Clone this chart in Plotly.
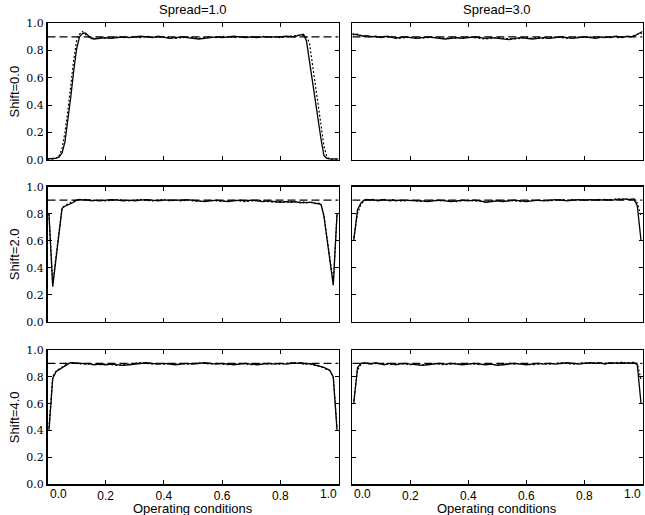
import plotly.graph_objects as go

# ---------------- data ----------------
X_LEFT = [0.000, 0.005, 0.018, 0.030, 0.040, 0.050, 0.060, 0.070, 0.080, 0.090,
          0.100, 0.110, 0.120, 0.130, 0.140, 0.150, 0.160]
X_MID = [0.18, 0.20, 0.22, 0.24, 0.26, 0.28, 0.30, 0.32, 0.34, 0.36, 0.38, 0.40,
         0.42, 0.44, 0.46, 0.48, 0.50, 0.52, 0.54, 0.56, 0.58, 0.60, 0.62, 0.64,
         0.66, 0.68, 0.70, 0.72, 0.74, 0.76, 0.78, 0.80, 0.82, 0.84]
X_RIGHT = [0.850, 0.860, 0.870, 0.880, 0.890, 0.900, 0.910, 0.920, 0.930, 0.940,
           0.950, 0.960, 0.970, 0.982, 0.995, 1.000]
X = X_LEFT + X_MID + X_RIGHT

SPREADS = ["Spread=1.0", "Spread=3.0"]
SHIFTS = ["Shift=0.0", "Shift=2.0", "Shift=4.0"]
REF_LEVEL = 0.9
X_TICKS = [0.0, 0.2, 0.4, 0.6, 0.8, 1.0]
X_TICK_LABELS = ["0.0", "0.2", "0.4", "0.6", "0.8", "1.0"]
Y_TICKS = [0.0, 0.2, 0.4, 0.6, 0.8, 1.0]
Y_TICK_LABELS = ["0.0", "0.2", "0.4", "0.6", "0.8", "1.0"]
X_TITLE = "Operating conditions"

# Shift=0.0, Spread=1.0
A_SOLID = [0.005, 0.006, 0.008, 0.012, 0.02, 0.05, 0.13, 0.28, 0.46, 0.65, 0.81, 0.90, 0.925, 0.93, 0.91, 0.89, 0.885,
           0.89, 0.895, 0.89, 0.895, 0.90, 0.895, 0.90, 0.905, 0.90, 0.895, 0.905, 0.90, 0.89, 0.895, 0.90, 0.895, 0.89,
           0.885, 0.89, 0.895, 0.90, 0.895, 0.90, 0.905, 0.90, 0.895, 0.90, 0.895, 0.90, 0.90, 0.895, 0.90, 0.905, 0.90,
           0.90, 0.91, 0.915, 0.92, 0.87, 0.72, 0.58, 0.44, 0.30, 0.15, 0.03, 0.01, 0.005, 0.005, 0.005, 0.005]
A_DOTTED = [0.0, 0.0, 0.002, 0.01, 0.03, 0.08, 0.20, 0.36, 0.55, 0.73, 0.87, 0.92, 0.94, 0.92, 0.90, 0.895, 0.89,
            0.895, 0.89, 0.895, 0.90, 0.895, 0.90, 0.90, 0.895, 0.905, 0.90, 0.895, 0.90, 0.895, 0.89, 0.895, 0.90, 0.895,
            0.89, 0.895, 0.90, 0.895, 0.905, 0.90, 0.895, 0.90, 0.90, 0.895, 0.90, 0.905, 0.895, 0.90, 0.895, 0.90, 0.905,
            0.905, 0.91, 0.915, 0.91, 0.90, 0.86, 0.71, 0.55, 0.40, 0.25, 0.10, 0.02, 0.005, 0.0, 0.0, 0.0]
# Shift=0.0, Spread=3.0
B_SOLID = [0.925, 0.92, 0.915, 0.91, 0.905, 0.91, 0.905, 0.90, 0.905, 0.90, 0.895, 0.90, 0.905, 0.90, 0.895, 0.89, 0.895,
           0.90, 0.895, 0.89, 0.895, 0.90, 0.895, 0.89, 0.885, 0.89, 0.895, 0.89, 0.895, 0.90, 0.895, 0.89, 0.895, 0.89,
           0.885, 0.88, 0.89, 0.895, 0.89, 0.885, 0.89, 0.895, 0.89, 0.895, 0.90, 0.895, 0.89, 0.895, 0.90, 0.895, 0.89,
           0.895, 0.90, 0.895, 0.90, 0.895, 0.90, 0.905, 0.90, 0.895, 0.90, 0.905, 0.90, 0.905, 0.92, 0.935, 0.94]
B_DOTTED = [0.92, 0.915, 0.92, 0.91, 0.91, 0.905, 0.90, 0.905, 0.90, 0.895, 0.90, 0.905, 0.90, 0.895, 0.90, 0.895, 0.89,
            0.895, 0.90, 0.895, 0.89, 0.895, 0.90, 0.895, 0.89, 0.895, 0.89, 0.895, 0.90, 0.895, 0.89, 0.885, 0.89, 0.895,
            0.89, 0.885, 0.885, 0.89, 0.895, 0.89, 0.895, 0.89, 0.895, 0.90, 0.895, 0.89, 0.895, 0.90, 0.895, 0.90, 0.895,
            0.90, 0.895, 0.90, 0.895, 0.90, 0.905, 0.90, 0.895, 0.90, 0.905, 0.90, 0.905, 0.91, 0.915, 0.925, 0.93]
# Shift=2.0, Spread=1.0
C_SOLID = [None, 0.80, 0.26, 0.48, 0.66, 0.84, 0.855, 0.865, 0.87, 0.885, 0.90, 0.905, 0.90, 0.905, 0.90, 0.895, 0.90,
           0.895, 0.90, 0.905, 0.90, 0.895, 0.90, 0.895, 0.90, 0.905, 0.90, 0.895, 0.90, 0.90, 0.895, 0.90, 0.905, 0.90,
           0.895, 0.89, 0.895, 0.90, 0.895, 0.89, 0.895, 0.90, 0.895, 0.90, 0.895, 0.89, 0.895, 0.89, 0.885, 0.89, 0.885,
           0.89, 0.885, 0.88, 0.885, 0.88, 0.885, 0.88, 0.88, 0.875, 0.87, 0.78, 0.61, 0.45, 0.27, 0.80, None]
C_DOTTED = [None, 0.80, 0.28, 0.50, 0.68, 0.845, 0.86, 0.87, 0.88, 0.89, 0.905, 0.90, 0.905, 0.90, 0.905, 0.90, 0.895,
            0.90, 0.895, 0.90, 0.905, 0.90, 0.895, 0.90, 0.905, 0.90, 0.895, 0.90, 0.905, 0.895, 0.90, 0.895, 0.90, 0.895,
            0.89, 0.895, 0.90, 0.895, 0.89, 0.895, 0.90, 0.895, 0.89, 0.895, 0.90, 0.895, 0.89, 0.885, 0.89, 0.885, 0.89,
            0.885, 0.89, 0.885, 0.88, 0.885, 0.88, 0.885, 0.875, 0.88, 0.87, 0.79, 0.62, 0.46, 0.29, 0.80, None]
# Shift=2.0, Spread=3.0
D_SOLID = [None, 0.60, 0.83, 0.88, 0.90, 0.905, 0.90, 0.905, 0.90, 0.895, 0.90, 0.905, 0.90, 0.895, 0.90, 0.895, 0.90,
           0.90, 0.895, 0.90, 0.895, 0.89, 0.895, 0.90, 0.895, 0.89, 0.895, 0.90, 0.895, 0.90, 0.895, 0.885, 0.89, 0.895,
           0.89, 0.895, 0.90, 0.895, 0.89, 0.895, 0.90, 0.895, 0.90, 0.905, 0.90, 0.895, 0.90, 0.905, 0.90, 0.905, 0.90,
           0.905, 0.90, 0.905, 0.90, 0.905, 0.90, 0.905, 0.91, 0.905, 0.91, 0.905, 0.91, 0.91, 0.86, 0.60, None]
D_DOTTED = [None, 0.62, 0.80, 0.87, 0.895, 0.90, 0.905, 0.90, 0.895, 0.90, 0.905, 0.90, 0.895, 0.90, 0.905, 0.90, 0.895,
            0.895, 0.90, 0.895, 0.89, 0.895, 0.90, 0.895, 0.90, 0.895, 0.89, 0.895, 0.90, 0.895, 0.89, 0.89, 0.895, 0.90,
            0.895, 0.90, 0.895, 0.89, 0.895, 0.90, 0.895, 0.90, 0.895, 0.90, 0.905, 0.90, 0.905, 0.90, 0.905, 0.90, 0.905,
            0.90, 0.905, 0.90, 0.905, 0.90, 0.905, 0.91, 0.905, 0.91, 0.905, 0.91, 0.905, 0.91, 0.88, 0.78, None]
# Shift=4.0, Spread=1.0
E_SOLID = [None, 0.40, 0.79, 0.84, 0.855, 0.865, 0.88, 0.895, 0.905, 0.905, 0.90, 0.905, 0.90, 0.895, 0.90, 0.895, 0.89,
           0.895, 0.89, 0.895, 0.89, 0.885, 0.89, 0.895, 0.90, 0.905, 0.90, 0.895, 0.90, 0.895, 0.89, 0.895, 0.90, 0.895,
           0.90, 0.905, 0.90, 0.895, 0.90, 0.895, 0.89, 0.895, 0.90, 0.895, 0.89, 0.895, 0.90, 0.895, 0.90, 0.895, 0.90,
           0.905, 0.90, 0.905, 0.90, 0.895, 0.90, 0.895, 0.89, 0.885, 0.88, 0.87, 0.86, 0.85, 0.80, 0.40, None]
E_DOTTED = [None, 0.42, 0.80, 0.845, 0.86, 0.87, 0.885, 0.90, 0.90, 0.905, 0.90, 0.895, 0.90, 0.90, 0.895, 0.89, 0.895,
            0.89, 0.895, 0.89, 0.885, 0.89, 0.895, 0.90, 0.905, 0.90, 0.895, 0.90, 0.895, 0.90, 0.895, 0.90, 0.895, 0.90,
            0.905, 0.90, 0.895, 0.90, 0.895, 0.89, 0.895, 0.90, 0.895, 0.89, 0.895, 0.90, 0.895, 0.90, 0.895, 0.90, 0.905,
            0.90, 0.905, 0.90, 0.895, 0.90, 0.895, 0.89, 0.89, 0.88, 0.875, 0.865, 0.855, 0.845, 0.80, 0.42, None]
# Shift=4.0, Spread=3.0
F_SOLID = [None, 0.60, 0.87, 0.90, 0.905, 0.90, 0.895, 0.90, 0.905, 0.90, 0.895, 0.89, 0.895, 0.90, 0.895, 0.89, 0.895,
           0.90, 0.895, 0.89, 0.885, 0.89, 0.895, 0.90, 0.895, 0.90, 0.895, 0.89, 0.895, 0.90, 0.895, 0.89, 0.895, 0.885,
           0.89, 0.895, 0.90, 0.895, 0.89, 0.895, 0.90, 0.895, 0.90, 0.895, 0.90, 0.905, 0.90, 0.895, 0.90, 0.905, 0.90,
           0.905, 0.90, 0.895, 0.90, 0.905, 0.90, 0.905, 0.90, 0.905, 0.90, 0.905, 0.90, 0.905, 0.89, 0.60, None]
F_DOTTED = [None, 0.62, 0.85, 0.895, 0.90, 0.905, 0.90, 0.895, 0.90, 0.895, 0.90, 0.895, 0.90, 0.895, 0.89, 0.895, 0.90,
            0.895, 0.89, 0.895, 0.89, 0.895, 0.90, 0.895, 0.89, 0.895, 0.90, 0.895, 0.90, 0.895, 0.89, 0.895, 0.89, 0.89,
            0.895, 0.90, 0.895, 0.90, 0.895, 0.89, 0.895, 0.90, 0.895, 0.90, 0.905, 0.90, 0.895, 0.90, 0.905, 0.90, 0.905,
            0.90, 0.905, 0.90, 0.905, 0.90, 0.905, 0.90, 0.905, 0.91, 0.905, 0.90, 0.905, 0.91, 0.90, 0.78, None]

PANELS = [  # (row, col, solid, dotted)
    (0, 0, A_SOLID, A_DOTTED),
    (0, 1, B_SOLID, B_DOTTED),
    (1, 0, C_SOLID, C_DOTTED),
    (1, 1, D_SOLID, D_DOTTED),
    (2, 0, E_SOLID, E_DOTTED),
    (2, 1, F_SOLID, F_DOTTED),
]
for _, _, s, d in PANELS:
    assert len(s) == len(X) and len(d) == len(X), (len(s), len(d), len(X))

# ---------------- layout ----------------
W, H = 645, 515
COL_PX = [(47.5, 338.5), (352.3, 642.5)]
ROW_PX = [(23.3, 159.7), (186.7, 321.7), (350.0, 484.3)]


def px_x(p):
    return p / W


def px_y(p):
    return 1 - p / H


col_dom = [[px_x(a), px_x(b)] for a, b in COL_PX]
row_dom = [[px_y(b), px_y(a)] for a, b in ROW_PX]

SANS = "Liberation Sans, Arial, sans-serif"
SERIF = "DejaVu Serif, serif"

fig = go.Figure()
layout = dict(
    width=W, height=H,
    margin=dict(l=0, r=0, t=0, b=0),
    paper_bgcolor="white", plot_bgcolor="white",
    showlegend=False,
    font=dict(family=SANS, size=13, color="black"),
)
annotations = []

for r, c, solid, dotted in PANELS:
    n = r * 2 + c + 1
    xa = "x" if n == 1 else f"x{n}"
    ya = "y" if n == 1 else f"y{n}"
    xkey = "xaxis" if n == 1 else f"xaxis{n}"
    ykey = "yaxis" if n == 1 else f"yaxis{n}"

    fig.add_trace(go.Scatter(x=[0, 1], y=[REF_LEVEL, REF_LEVEL], mode="lines",
                             line=dict(color="black", width=1.2, dash="8px,4px"),
                             xaxis=xa, yaxis=ya, hoverinfo="skip"))
    fig.add_trace(go.Scatter(x=X, y=dotted, mode="lines",
                             line=dict(color="black", width=1.2, dash="2px,2px"),
                             xaxis=xa, yaxis=ya))
    fig.add_trace(go.Scatter(x=X, y=solid, mode="lines",
                             line=dict(color="black", width=1.3),
                             xaxis=xa, yaxis=ya))

    bottom = (r == 2)
    layout[xkey] = dict(
        domain=col_dom[c], anchor=ya, range=[0, 1],
        showline=True, linecolor="black", linewidth=1.5, mirror="ticks",
        ticks="inside", ticklen=4, tickwidth=1, tickcolor="black",
        tickvals=X_TICKS[1:-1], ticktext=X_TICK_LABELS[1:-1],
        showticklabels=bottom, tickfont=dict(family=SANS, size=12),
        showgrid=False, zeroline=False, automargin=False,
    )
    layout[ykey] = dict(
        domain=row_dom[r], anchor=xa, range=[0, 1],
        showline=True, linecolor="black", linewidth=1.5, mirror="ticks",
        ticks="inside", ticklen=4, tickwidth=1, tickcolor="black",
        tickvals=Y_TICKS, ticktext=Y_TICK_LABELS,
        showticklabels=(c == 0), tickfont=dict(family=SERIF, size=11),
        showgrid=False, zeroline=False, automargin=False,
    )
    if bottom:
        # edge tick labels, aligned inward like the original
        annotations.append(dict(x=X_TICKS[0], y=px_y(494), xref=xa, yref="paper",
                                text=X_TICK_LABELS[0], showarrow=False, xanchor="left",
                                yanchor="middle", font=dict(family=SANS, size=12)))
        annotations.append(dict(x=X_TICKS[-1], y=px_y(494), xref=xa, yref="paper",
                                text=X_TICK_LABELS[-1], showarrow=False, xanchor="right",
                                yanchor="middle", font=dict(family=SANS, size=12)))
        annotations.append(dict(x=sum(col_dom[c]) / 2, y=px_y(508), xref="paper", yref="paper",
                                text=X_TITLE, showarrow=False, xanchor="center",
                                yanchor="middle", font=dict(family=SANS, size=13)))
    if r == 0:
        annotations.append(dict(x=sum(col_dom[c]) / 2, y=px_y(10), xref="paper", yref="paper",
                                text=SPREADS[c], showarrow=False, xanchor="center",
                                yanchor="middle", font=dict(family=SANS, size=13)))
    if c == 0:
        annotations.append(dict(x=px_x(14), y=sum(row_dom[r]) / 2, xref="paper", yref="paper",
                                text=SHIFTS[r], showarrow=False, textangle=-90,
                                xanchor="center", yanchor="middle",
                                font=dict(family=SANS, size=13)))

layout["annotations"] = annotations
fig.update_layout(**layout)
# remove the browser's default page margin so the figure fills the window exactly
fig.write_html("out.html",
               config={"displayModeBar": False, "staticPlot": True},
               post_script="document.body.style.margin='0px';document.body.style.overflow='hidden';")
